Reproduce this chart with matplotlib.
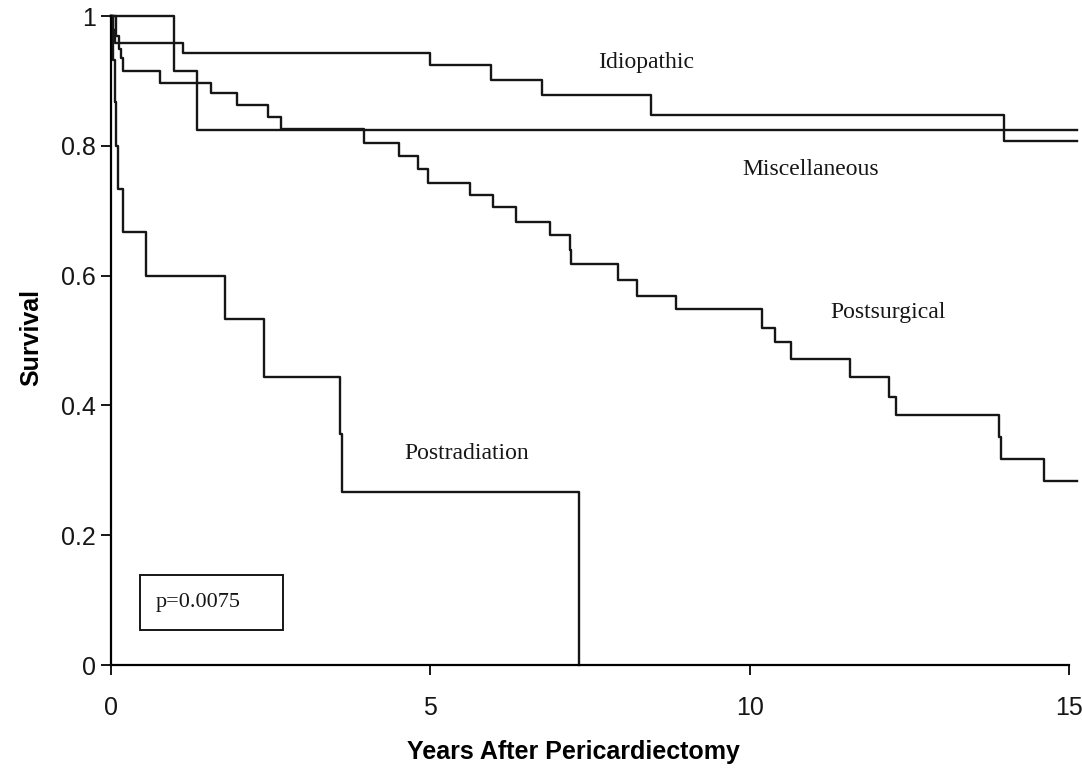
import matplotlib.pyplot as plt
from matplotlib.patches import Rectangle

# Kaplan-Meier survival after pericardiectomy, by etiology
x_end = 15.12

idio_t = [0, 0.03, 0.06, 1.13, 5.00, 5.95, 6.75, 8.45, 13.97, x_end]
idio_s = [1.0, 0.979, 0.958, 0.943, 0.925, 0.902, 0.878, 0.847, 0.807, 0.807]

misc_t = [0, 0.98, 1.34, x_end]
misc_s = [1.0, 0.915, 0.824, 0.824]

postsurg_t = [0, 0.08, 0.12, 0.15, 0.19, 0.77, 1.57, 1.97, 2.46, 2.66,
              3.96, 4.50, 4.80, 4.96, 5.62, 5.98, 6.34, 6.87, 7.18, 7.20,
              7.94, 8.23, 8.85, 10.19, 10.40, 10.65, 11.56, 12.18, 12.29, 13.90,
              13.93, 14.61, x_end]
postsurg_s = [1.0, 0.970, 0.950, 0.935, 0.916, 0.897, 0.881, 0.863, 0.844, 0.826,
              0.805, 0.785, 0.765, 0.743, 0.725, 0.706, 0.682, 0.662, 0.640, 0.618,
              0.593, 0.569, 0.548, 0.519, 0.498, 0.472, 0.444, 0.413, 0.386, 0.352,
              0.318, 0.283, 0.283]

postrad_t = [0, 0.03, 0.06, 0.08, 0.11, 0.19, 0.54, 1.78, 2.39, 3.59, 3.62, 7.32]
postrad_s = [1.0, 0.933, 0.867, 0.800, 0.733, 0.667, 0.600, 0.533, 0.444, 0.356, 0.267, 0.0]

x_ticks = [0, 5, 10, 15]
y_ticks = [0, 0.2, 0.4, 0.6, 0.8, 1.0]
y_tick_labels = ['0', '0.2', '0.4', '0.6', '0.8', '1']

fig = plt.figure(figsize=(10.82, 7.69), dpi=100)
ax = fig.add_axes([0.1026, 0.1352, 0.8928, 0.8438])

for t, s in [(idio_t, idio_s), (misc_t, misc_s), (postsurg_t, postsurg_s), (postrad_t, postrad_s)]:
    ax.step(t, s, where='post', color='#161616', linewidth=1.7, clip_on=False)

ax.set_xlim(0, x_end)
ax.set_ylim(0, 1.0)

for side in ['top', 'right']:
    ax.spines[side].set_visible(False)
ax.spines['left'].set_linewidth(1.6)
ax.spines['bottom'].set_linewidth(1.6)
ax.spines['bottom'].set_bounds(0, 15)

ax.set_xticks(x_ticks)
ax.set_yticks(y_ticks)
ax.set_yticklabels(y_tick_labels)
ax.tick_params(axis='both', direction='out', length=7, width=1.4, labelsize=18,
               color='#161616', labelcolor='#161616')
ax.tick_params(axis='x', pad=15)
ax.tick_params(axis='y', pad=4)
for lab in ax.get_xticklabels() + ax.get_yticklabels():
    lab.set_fontfamily('Liberation Sans')

ax.set_xlabel('Years After Pericardiectomy', fontsize=18, fontweight='bold',
              family='Liberation Sans')
ax.xaxis.set_label_coords(0.479, -0.115)
ax.set_ylabel('Survival', fontsize=18, fontweight='bold',
              family='Liberation Sans')
ax.yaxis.set_label_coords(-0.070, 0.505)

serif = dict(family='Liberation Serif', fontsize=17, color='#161616',
             ha='center', va='center')
ax.text(8.37, 0.928, 'Idiopathic', **serif)
ax.text(10.95, 0.764, 'Miscellaneous', **serif)
ax.text(12.16, 0.543, 'Postsurgical', **serif)
ax.text(5.57, 0.326, 'Postradiation', **serif)

ax.add_patch(Rectangle((0.45, 0.054), 2.24, 0.085, fill=False,
                       edgecolor='#161616', linewidth=1.4))
ax.text(0.70, 0.0965, 'p=0.0075', family='Liberation Serif', fontsize=16,
        color='#161616', ha='left', va='center')

fig.savefig('out.png', dpi=100)
